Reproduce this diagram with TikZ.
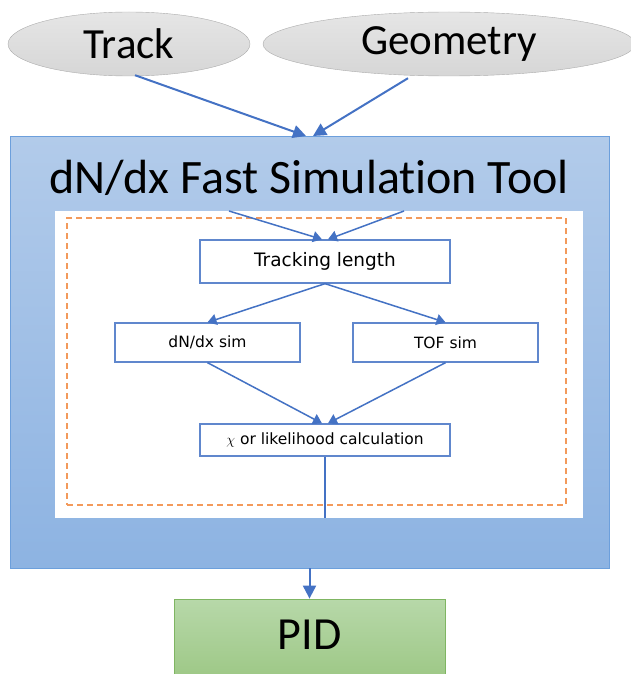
\documentclass[tikz,border=0pt]{standalone}
\usepackage{fontspec}
\setmainfont{Carlito}[Ligatures=NoCommon]
\newfontfamily\verdana{DejaVu Sans}
\usetikzlibrary{arrows.meta,shapes.geometric,positioning}
\definecolor{LineClr}{HTML}{4472C4}
\definecolor{ToolTop}{HTML}{B2CBEA}
\definecolor{ToolBot}{HTML}{8DB3E2}
\definecolor{ToolEdge}{HTML}{6C9FDC}
\definecolor{PidTop}{HTML}{B7D8A9}
\definecolor{PidBot}{HTML}{9CC784}
\definecolor{PidEdge}{HTML}{7FB562}
\definecolor{DashClr}{HTML}{F39A5B}

\tikzset{
  source/.style={ellipse,draw=gray!65,top color=gray!20,bottom color=gray!32,
    minimum width=242pt,minimum height=64pt,inner sep=0pt,font=\fontsize{43}{48}\selectfont},
  stage/.style={rectangle,draw=LineClr!85,line width=1.3pt,fill=white,inner sep=0pt,
    font=\verdana\fontsize{15.5}{18}\selectfont},
  flow/.style={draw=LineClr,line width=2pt,-{Triangle[length=13pt,width=13pt]}},
  subflow/.style={draw=LineClr,line width=1.5pt,-{Triangle[length=9pt,width=11pt]}},
}

\begin{document}
\begin{tikzpicture}[x=1pt,y=-1pt]
\useasboundingbox (0,0) rectangle (631,674);

% inputs
\node[source] (track) at (129,44) {Track};
\node[source,minimum width=372pt] (geom) at (449,44) {Geometry};

% the tool box with its embedded flow chart
\node[draw=ToolEdge,line width=0.8pt,top color=ToolTop,bottom color=ToolBot,
  minimum width=599pt,minimum height=432pt] (tool) at (309.5,352) {};
\node[font=\fontsize{48}{54}\selectfont] (title) at (309,178) {dN/dx Fast Simulation Tool};
\node[fill=white,minimum width=528pt,minimum height=307pt,inner sep=0pt] (panel) at (319,364.5) {};
\node[draw=DashClr,line width=1.4pt,dash pattern=on 6pt off 4pt,
  minimum width=499pt,minimum height=287pt,inner sep=0pt] (frame) at (316.5,361.5) {};

\node[stage,minimum width=250pt,minimum height=43pt,font=\verdana\fontsize{18.5}{22}\selectfont]
  (trk) at (325,261.5) {Tracking length};
\node[stage,minimum width=185pt,minimum height=39pt] (dndx) at (207.5,342.5) {dN/dx sim};
\node[stage,minimum width=185pt,minimum height=39pt] (tof) at (445.5,342.5) {TOF sim};
\node[stage,minimum width=250pt,minimum height=32pt] (chi) at (325,440) {$\chi$ or likelihood calculation};

% output
\node[draw=PidEdge,line width=0.8pt,top color=PidTop,bottom color=PidBot,
  minimum width=271pt,minimum height=84pt,inner sep=0pt,font=\fontsize{46}{52}\selectfont,
  text depth=12pt] (pid) at (309.5,641) {PID};

% connectors
\coordinate (inT) at (306,136);
\coordinate (inG) at (313,136);
\draw[flow] ([xshift=6pt,yshift=1pt]track.south) -- (inT);
\draw[flow] ([xshift=-41pt,yshift=-2pt]geom.south) -- (inG);

\coordinate (topA) at (229,211);
\coordinate (topB) at (404,211);
\draw[subflow] (topA) -- ([xshift=-3pt]trk.north);
\draw[subflow] (topB) -- ([xshift=3pt]trk.north);
\draw[subflow] (trk.south) -- (dndx.north);
\draw[subflow] (trk.south) -- (tof.north);
\draw[subflow] (dndx.south) -- ([xshift=-3pt]chi.north);
\draw[subflow] (tof.south) -- ([xshift=3pt]chi.north);
\draw[LineClr,line width=1.5pt] (chi.south) -- (chi.south |- panel.south);
\draw[flow] (tool.south) -- (pid.north);
\end{tikzpicture}
\end{document}
